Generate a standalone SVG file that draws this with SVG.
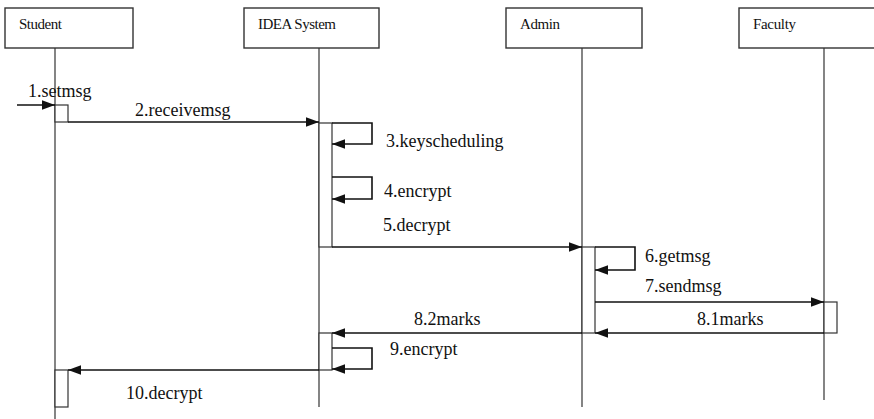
<svg xmlns="http://www.w3.org/2000/svg" width="874" height="419" viewBox="0 0 874 419">
<style>
.box{fill:#fff;stroke:#333;stroke-width:1.4}
.life{stroke:#333;stroke-width:1.2;fill:none}
.act{fill:#fff;stroke:#333;stroke-width:1.2}
.msg{stroke:#111;stroke-width:1.6;fill:none}
.hdr{font-family:'Liberation Serif','Times New Roman',Tinos,'DejaVu Serif',serif;font-size:15px;fill:#111}
.lbl{font-family:'Liberation Serif','Times New Roman',Tinos,'DejaVu Serif',serif;font-size:18px;fill:#111}
</style>
<defs>
<marker id="ah" markerUnits="userSpaceOnUse" markerWidth="14" markerHeight="12" refX="13" refY="6" orient="auto">
<path d="M0,1.2 L13,6 L0,10.8 Z" fill="#111"/>
</marker>
</defs>
<g id="student">
<rect class="box" x="5" y="8" width="128" height="40"/>
<text class="hdr" x="19" y="29" textLength="43">Student</text>
<line class="life" x1="55" y1="48" x2="55" y2="419"/>
<rect class="act" x="55" y="105" width="13" height="17"/>
<rect class="act" x="55" y="370" width="13" height="37"/>
</g>
<g id="idea">
<rect class="box" x="244" y="8" width="135" height="40"/>
<text class="hdr" x="258" y="28.5" textLength="78">IDEA System</text>
<line class="life" x1="319" y1="48" x2="319" y2="407"/>
<rect class="act" x="319" y="123" width="13" height="124"/>
<rect class="act" x="319" y="333" width="13" height="37"/>
</g>
<g id="admin">
<rect class="box" x="506" y="8" width="136" height="40"/>
<text class="hdr" x="520" y="28.5" textLength="40">Admin</text>
<line class="life" x1="582" y1="48" x2="582" y2="407"/>
<rect class="act" x="582" y="247" width="13" height="86"/>
</g>
<g id="faculty">
<rect class="box" x="739" y="8" width="145" height="40"/>
<text class="hdr" x="753" y="28.5" textLength="43">Faculty</text>
<line class="life" x1="824" y1="48" x2="824" y2="400"/>
<rect class="act" x="824" y="302" width="13" height="31"/>
</g>
<g id="connectors">
<line class="msg" x1="17" y1="105" x2="55" y2="105" marker-end="url(#ah)"/>
<line class="msg" x1="68" y1="122" x2="319" y2="122" marker-end="url(#ah)"/>
<polyline class="msg" points="332,123 372,123 372,144 332,144" marker-end="url(#ah)"/>
<polyline class="msg" points="332,177 372,177 372,199 332,199" marker-end="url(#ah)"/>
<line class="msg" x1="332" y1="247" x2="582" y2="247" marker-end="url(#ah)"/>
<polyline class="msg" points="595,247 635,247 635,270 595,270" marker-end="url(#ah)"/>
<line class="msg" x1="595" y1="302" x2="824" y2="302" marker-end="url(#ah)"/>
<line class="msg" x1="824" y1="333" x2="595" y2="333" marker-end="url(#ah)"/>
<line class="msg" x1="582" y1="333" x2="332" y2="333" marker-end="url(#ah)"/>
<polyline class="msg" points="332,348 372,348 372,369 332,369" marker-end="url(#ah)"/>
<line class="msg" x1="319" y1="370" x2="68" y2="370" marker-end="url(#ah)"/>
</g>
<g id="labels">
<text class="lbl" x="28" y="97">1.setmsg</text>
<text class="lbl" x="135" y="116">2.receivemsg</text>
<text class="lbl" x="386" y="147">3.keyscheduling</text>
<text class="lbl" x="384" y="197">4.encrypt</text>
<text class="lbl" x="383" y="231">5.decrypt</text>
<text class="lbl" x="645" y="262">6.getmsg</text>
<text class="lbl" x="645" y="292">7.sendmsg</text>
<text class="lbl" x="697" y="325">8.1marks</text>
<text class="lbl" x="414" y="325">8.2marks</text>
<text class="lbl" x="390" y="355">9.encrypt</text>
<text class="lbl" x="126" y="399">10.decrypt</text>
</g>
</svg>
